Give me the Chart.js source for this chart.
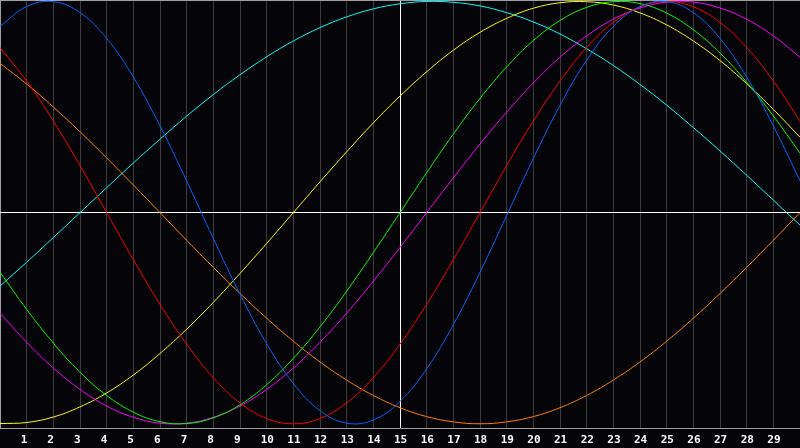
<!DOCTYPE html>
<html>
<head>
<meta charset="utf-8">
<script src="https://cdn.jsdelivr.net/npm/chart.js@4.4.1/dist/chart.umd.min.js"></script>
<style>
	html, body { margin: 0; padding: 0; background: #050408; }
	#cnvBio { display: block; }
</style>
</head>
<body>
<canvas id="cnvBio" width="800" height="448"></canvas>
<script>
// days 0..30, values in percent
var dias = [0,1,2,3,4,5,6,7,8,9,10,11,12,13,14,15,16,17,18,19,20,21,22,23,24,25,26,27,28,29,30];

var fisico      = [88.2,97.6,99.9,94.7,82.5,64.2,41.1,15.0,-12.3,-38.6,-62.1,-80.9,-93.8,-99.7,-98.2,-89.4,-74.0,-53.1,-28.3,-1.4,25.7,50.8,72.2,88.2,97.6,99.9,94.7,82.5,64.2,41.1,15.0];
var emocional   = [78.2,62.3,43.4,22.3,0,-22.3,-43.4,-62.3,-78.2,-90.1,-97.5,-100,-97.5,-90.1,-78.2,-62.3,-43.4,-22.3,0,22.3,43.4,62.3,78.2,90.1,97.5,100,97.5,90.1,78.2,62.3,43.4];
var intelectual = [-28.2,-45.8,-61.8,-75.6,-86.6,-94.5,-99.0,-99.9,-97.2,-91.0,-81.5,-69.0,-54.1,-37.2,-18.9,0,18.9,37.2,54.1,69.0,81.5,91.0,97.2,99.9,99.0,94.5,86.6,75.6,61.8,45.8,28.2];
var intuitivo   = [-47.6,-61.4,-73.6,-83.7,-91.6,-96.9,-99.7,-99.7,-96.9,-91.6,-83.7,-73.6,-61.4,-47.6,-32.5,-16.5,0,16.5,32.5,47.6,61.4,73.6,83.7,91.6,96.9,99.7,99.7,96.9,91.6,83.7,73.6];
var estetico    = [-99.9,-99.4,-96.8,-92.0,-85.4,-76.9,-66.7,-55.2,-42.5,-28.8,-14.6,0,14.6,28.8,42.5,55.2,66.7,76.9,85.4,92.0,96.8,99.4,99.9,98.3,94.6,88.9,81.3,72.0,61.1,48.9,35.7];
var conciencia  = [70.7,60.9,50,38.3,25.9,13.1,0,-13.1,-25.9,-38.3,-50,-60.9,-70.7,-79.3,-86.6,-92.4,-96.6,-99.1,-100,-99.1,-96.6,-92.4,-86.6,-79.3,-70.7,-60.9,-50,-38.3,-25.9,-13.1,0];
var espiritual  = [-34.8,-23.5,-11.8,0,11.8,23.5,34.8,45.7,55.9,65.3,73.8,81.3,87.6,92.7,96.5,98.9,100,99.6,97.9,94.7,90.3,84.6,77.6,69.7,60.7,50.9,40.3,29.2,17.7,5.9,-5.9];

var colores = ["#0064ff","#ff0000","#00ff00","#ff00ff","#ffff00","#ff8000","#00ffff"];

function serie(valores, color){
	return {
		data: valores.map(function(v, i){ return {x: dias[i], y: v}; }),
		borderColor: color,
		borderWidth: 1,
		pointRadius: 0,
		tension: 0.4,
		fill: false
	};
}

Chart.defaults.font.family = "'DejaVu Sans Mono', monospace";

new Chart(document.getElementById("cnvBio").getContext("2d"), {
	type: "line",
	data: {
		datasets: [
			serie(fisico, colores[0]),
			serie(emocional, colores[1]),
			serie(intelectual, colores[2]),
			serie(intuitivo, colores[3]),
			serie(estetico, colores[4]),
			serie(conciencia, colores[5]),
			serie(espiritual, colores[6])
		]
	},
	options: {
		responsive: false,
		animation: false,
		devicePixelRatio: 1,
		layout: { padding: 0 },
		plugins: { legend: { display: false }, tooltip: { enabled: false } },
		scales: {
			x: {
				type: "linear",
				min: 0,
				max: 30,
				afterFit: function(axis){
					axis.paddingLeft = 0;
					axis.paddingRight = 0;
					axis.height = 20;
				},
				border: { display: true, color: "#a0a0a0" },
				grid: {
					drawTicks: false,
					lineWidth: 1,
					color: function(c){
						if (c.tick.value === 15) return "#ffffff";
						if (c.tick.value === 0 || c.tick.value === 30) return "#a0a0a0";
						return "#3c3c3c";
					}
				},
				ticks: {
					stepSize: 1,
					autoSkip: false,
					maxRotation: 0,
					align: "start",
					labelOffset: -6,
					padding: 6,
					color: "#ffffff",
					font: { size: 11, weight: "bold" },
					callback: function(v){ return (v === 0 || v === 30) ? "" : String(v); }
				}
			},
			y: {
				min: -102,
				max: 100.7,
				afterBuildTicks: function(axis){
					axis.ticks = [{value: -102}, {value: 0}, {value: 100.7}];
				},
				afterFit: function(axis){
					axis.width = 0;
					axis.paddingTop = 0;
					axis.paddingBottom = 0;
				},
				border: { display: false },
				grid: {
					drawTicks: false,
					color: function(c){
						if (c.tick.value === 0) return "#ffffff";
						if (c.tick.value === 100.7) return "#a0a0a0";
						return "rgba(0,0,0,0)";
					}
				},
				ticks: { display: false }
			}
		}
	}
});
</script>
</body>
</html>
